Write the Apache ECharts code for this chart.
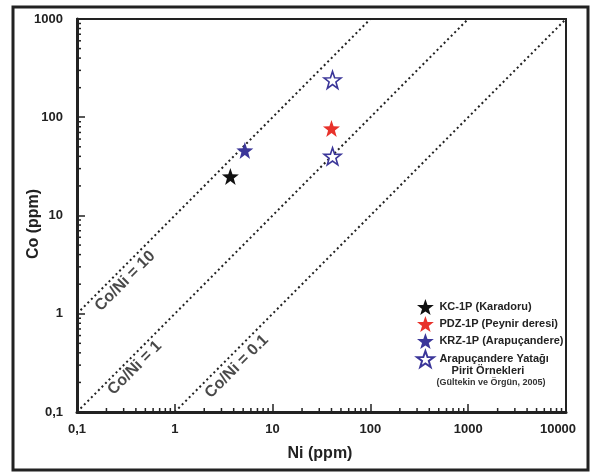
<!DOCTYPE html>
<html>
<head>
<meta charset="utf-8">
<script src="https://cdn.jsdelivr.net/npm/echarts@6/dist/echarts.min.js"></script>
<style>
html,body{margin:0;padding:0;background:#fff;}
#chart{width:591px;height:474px;}
</style>
</head>
<body>
<div id="chart"></div>
<script>
// ---- data ----
var seriesNames = ['KC-1P (Karadoru)', 'PDZ-1P (Peynir deresi)', 'KRZ-1P (Arapuçandere)', 'Arapuçandere Yatağı'];
var kcData = [[3.7, 25]];
var pdzData = [[40, 77]];
var krzData = [[5.2, 46]];
var arapData = [[41, 240], [41, 40]];
var ratioNames = ['Co/Ni = 10', 'Co/Ni = 1', 'Co/Ni = 0.1'];
var ratio10 = [[0.1, 1], [100, 1000]];
var ratio1 = [[0.1, 0.1], [1000, 1000]];
var ratio01 = [[1, 0.1], [10000, 1000]];
var xTicks = [0.1, 1, 10, 100, 1000, 10000];
var yTicks = [0.1, 1, 10, 100, 1000];

var FONT = '"Liberation Sans", Arial, sans-serif';
var STAR = 'path://M50 0 L61.76 33.82 L97.55 34.55 L69.02 56.18 L79.39 90.45 L50 70 L20.61 90.45 L30.98 56.18 L2.45 34.55 L38.24 33.82 Z';

// minor tick positions (2..9 x decade)
var xMinor = [], yMinor = [];
for (var i = 0; i < xTicks.length - 1; i++) for (var m = 2; m <= 9; m++) xMinor.push([xTicks[i] * m, 0.1]);
for (var j = 0; j < yTicks.length - 1; j++) for (var n = 2; n <= 9; n++) yMinor.push([0.1, yTicks[j] * n]);

function fmt(v) {
  var s = String(+v.toPrecision(6)).replace('.', ',');
  if (v === 10000) return '{last|' + s + '}';
  return s;
}

var chart = echarts.init(document.getElementById('chart'), null, {renderer: 'canvas'});

function ratioLine(name, data) {
  return {
    name: name, type: 'line', data: data, symbol: 'none', silent: true,
    lineStyle: {color: '#222', width: 2, type: [2, 3]}, z: 2
  };
}
function ratioLabel(text, pos) {
  return {
    type: 'scatter', data: [pos], symbolSize: 1, silent: true,
    itemStyle: {color: 'rgba(0,0,0,0)'},
    label: {show: true, position: 'inside', rotate: 45, formatter: text,
      fontFamily: FONT, fontWeight: 'bold', fontSize: 16, color: '#1a1a1a'},
    z: 3
  };
}

var option = {
  backgroundColor: '#fff',
  animation: false,
  grid: {left: 77, right: 25, top: 19, bottom: 62, show: true, borderColor: '#222', borderWidth: 2, backgroundColor: 'transparent'},
  xAxis: {
    type: 'log', logBase: 10, min: 0.1, max: 10000,
    axisLine: {lineStyle: {color: '#222', width: 3}},
    axisTick: {inside: true, length: 8, lineStyle: {color: '#222', width: 1.5}},
    splitLine: {show: false},
    axisLabel: {color: '#222', fontFamily: FONT, fontWeight: 'bold', fontSize: 13, margin: 11,
      formatter: fmt, rich: {last: {fontFamily: FONT, fontWeight: 'bold', fontSize: 13, color: '#222', padding: [0, 16, 0, 0]}}}
  },
  yAxis: {
    type: 'log', logBase: 10, min: 0.1, max: 1000,
    axisLine: {lineStyle: {color: '#222', width: 3}},
    axisTick: {inside: true, length: 8, lineStyle: {color: '#222', width: 1.5}},
    splitLine: {show: false},
    axisLabel: {color: '#222', fontFamily: FONT, fontWeight: 'bold', fontSize: 13, margin: 14, formatter: fmt}
  },
  legend: {
    orient: 'vertical', left: 416, top: 299, padding: 0,
    itemWidth: 18, itemHeight: 16, itemGap: 1,
    data: seriesNames,
    textStyle: {fontFamily: FONT, fontWeight: 'bold', fontSize: 11, color: '#222'}
  },
  graphic: [
    {type: 'rect', shape: {x: 13, y: 7, width: 575, height: 463}, style: {fill: 'none', stroke: '#222', lineWidth: 3}, z: 100},
    {type: 'text', x: 320, y: 454, style: {text: 'Ni (ppm)', align: 'center', verticalAlign: 'middle', font: 'bold 16px ' + FONT, fill: '#222'}},
    {type: 'text', x: 34, y: 224, rotation: Math.PI / 2, style: {text: 'Co (ppm)', align: 'center', verticalAlign: 'middle', font: 'bold 16px ' + FONT, fill: '#222'}},
    {type: 'text', x: 488, y: 371, style: {text: 'Pirit Örnekleri', align: 'center', verticalAlign: 'middle', font: 'bold 11px ' + FONT, fill: '#222'}},
    {type: 'text', x: 491, y: 383, style: {text: '(Gültekin ve Örgün, 2005)', align: 'center', verticalAlign: 'middle', font: 'bold 9px ' + FONT, fill: '#333'}}
  ],
  series: [
    ratioLine(ratioNames[0], ratio10),
    ratioLine(ratioNames[1], ratio1),
    ratioLine(ratioNames[2], ratio01),
    ratioLabel(ratioNames[0], [0.31, 2.15]),
    ratioLabel(ratioNames[1], [0.39, 0.28]),
    ratioLabel(ratioNames[2], [4.3, 0.29]),
    {
      type: 'custom', data: xMinor, silent: true, clip: false, z: 5,
      renderItem: function (params, api) {
        var p = api.coord([api.value(0), api.value(1)]);
        return {type: 'line', shape: {x1: p[0], y1: p[1], x2: p[0], y2: p[1] - 4}, style: {stroke: '#222', lineWidth: 1.5}};
      }
    },
    {
      type: 'custom', data: yMinor, silent: true, clip: false, z: 5,
      renderItem: function (params, api) {
        var p = api.coord([api.value(0), api.value(1)]);
        return {type: 'line', shape: {x1: p[0], y1: p[1], x2: p[0] + 4, y2: p[1]}, style: {stroke: '#222', lineWidth: 1.5}};
      }
    },
    {name: seriesNames[0], type: 'scatter', data: kcData, symbol: STAR, symbolSize: 17, itemStyle: {color: '#111', opacity: 1}, z: 10},
    {name: seriesNames[1], type: 'scatter', data: pdzData, symbol: STAR, symbolSize: 17, itemStyle: {color: '#e8322b', opacity: 1}, z: 10},
    {name: seriesNames[2], type: 'scatter', data: krzData, symbol: STAR, symbolSize: 17, itemStyle: {color: '#3b3699', opacity: 1}, z: 10},
    {name: seriesNames[3], type: 'scatter', data: arapData, symbol: STAR, symbolSize: 17, itemStyle: {color: '#fff', borderColor: '#3b3699', borderWidth: 1.6, opacity: 1}, z: 10}
  ]
};
chart.setOption(option);
</script>
</body>
</html>
